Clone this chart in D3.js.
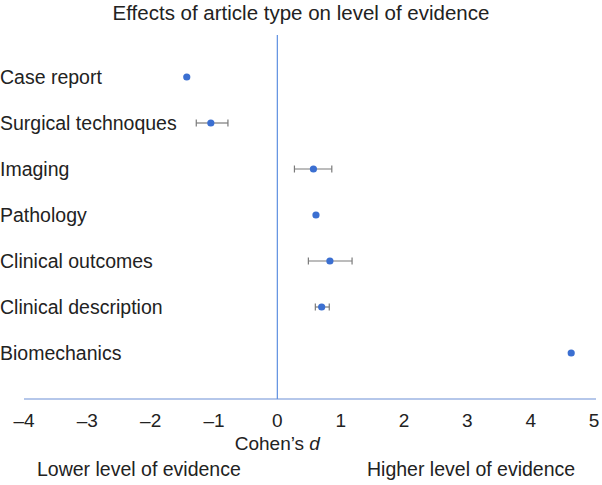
<!DOCTYPE html>
<html>
<head>
<meta charset="utf-8">
<script src="https://cdn.jsdelivr.net/npm/d3@7"></script>
<style>
  body { margin: 0; background: #fff; }
  text { font-family: "Liberation Sans", Arial, sans-serif; fill: #222; }
</style>
</head>
<body>
<div id="chart"></div>
<script>
// Article types and their effect sizes (Cohen's d)
const categories = ['Case report', 'Surgical technoques', 'Imaging', 'Pathology',
  'Clinical outcomes', 'Clinical description', 'Biomechanics'];
const effects = [-1.43, -1.05, 0.57, 0.61, 0.83, 0.70, 4.64];
const lowerCI = [null, -1.28, 0.27, null, 0.49, 0.60, null];
const upperCI = [null, -0.78, 0.86, null, 1.18, 0.82, null];
const xTicks = [-4, -3, -2, -1, 0, 1, 2, 3, 4, 5];

const width = 602, height = 485;
const fs = 19.5;

const svg = d3.select('#chart')
  .append('svg')
  .attr('width', width)
  .attr('height', height);

const x = d3.scaleLinear().domain([-4, 5]).range([24, 594]);
const y = d3.scalePoint().domain(categories).range([77, 353]);
const axisY = 399;

// Title
svg.append('text')
  .attr('x', 301).attr('y', 20)
  .attr('text-anchor', 'middle')
  .attr('font-size', 20.5)
  .text('Effects of article type on level of evidence');

// x axis line
svg.append('line')
  .attr('x1', 24).attr('x2', 596)
  .attr('y1', axisY).attr('y2', axisY)
  .attr('stroke', '#9db5e3').attr('stroke-width', 1.5);

// zero line
svg.append('line')
  .attr('x1', x(0)).attr('x2', x(0))
  .attr('y1', 35).attr('y2', axisY)
  .attr('stroke', '#5d8fe0').attr('stroke-width', 1.2);

// tick labels
svg.append('g')
  .selectAll('text')
  .data(xTicks)
  .enter()
  .append('text')
  .attr('x', d => x(d))
  .attr('y', 427)
  .attr('text-anchor', 'middle')
  .attr('font-size', 19)
  .text(d => d < 0 ? '\u2013' + Math.abs(d) : d);

// axis title
const xt = svg.append('text')
  .attr('x', x(0)).attr('y', 450)
  .attr('text-anchor', 'middle')
  .attr('font-size', 19);
xt.append('tspan').text('Cohen\u2019s ');
xt.append('tspan').attr('font-style', 'italic').text('d');

svg.append('text')
  .attr('x', 37).attr('y', 476)
  .attr('font-size', fs)
  .text('Lower level of evidence');
svg.append('text')
  .attr('x', 367).attr('y', 476)
  .attr('font-size', fs)
  .text('Higher level of evidence');

// category labels
svg.append('g')
  .selectAll('text')
  .data(categories)
  .enter()
  .append('text')
  .attr('x', 0)
  .attr('y', d => y(d) + 6.5)
  .attr('font-size', fs)
  .text(d => d);

// error bars
const rows = categories.map((c, i) => ({ c, v: effects[i], lo: lowerCI[i], hi: upperCI[i] }));
const bars = svg.append('g')
  .selectAll('g')
  .data(rows.filter(d => d.lo !== null))
  .enter()
  .append('g')
  .attr('stroke', '#7a7a7a')
  .attr('stroke-width', 1.2);
bars.append('line')
  .attr('x1', d => x(d.lo)).attr('x2', d => x(d.hi))
  .attr('y1', d => y(d.c)).attr('y2', d => y(d.c));
bars.append('line')
  .attr('x1', d => x(d.lo)).attr('x2', d => x(d.lo))
  .attr('y1', d => y(d.c) - 3.5).attr('y2', d => y(d.c) + 3.5);
bars.append('line')
  .attr('x1', d => x(d.hi)).attr('x2', d => x(d.hi))
  .attr('y1', d => y(d.c) - 3.5).attr('y2', d => y(d.c) + 3.5);

// points
svg.append('g')
  .selectAll('circle')
  .data(rows)
  .enter()
  .append('circle')
  .attr('cx', d => x(d.v))
  .attr('cy', d => y(d.c))
  .attr('r', 3.6)
  .attr('fill', '#3b6fd1');
</script>
</body>
</html>
